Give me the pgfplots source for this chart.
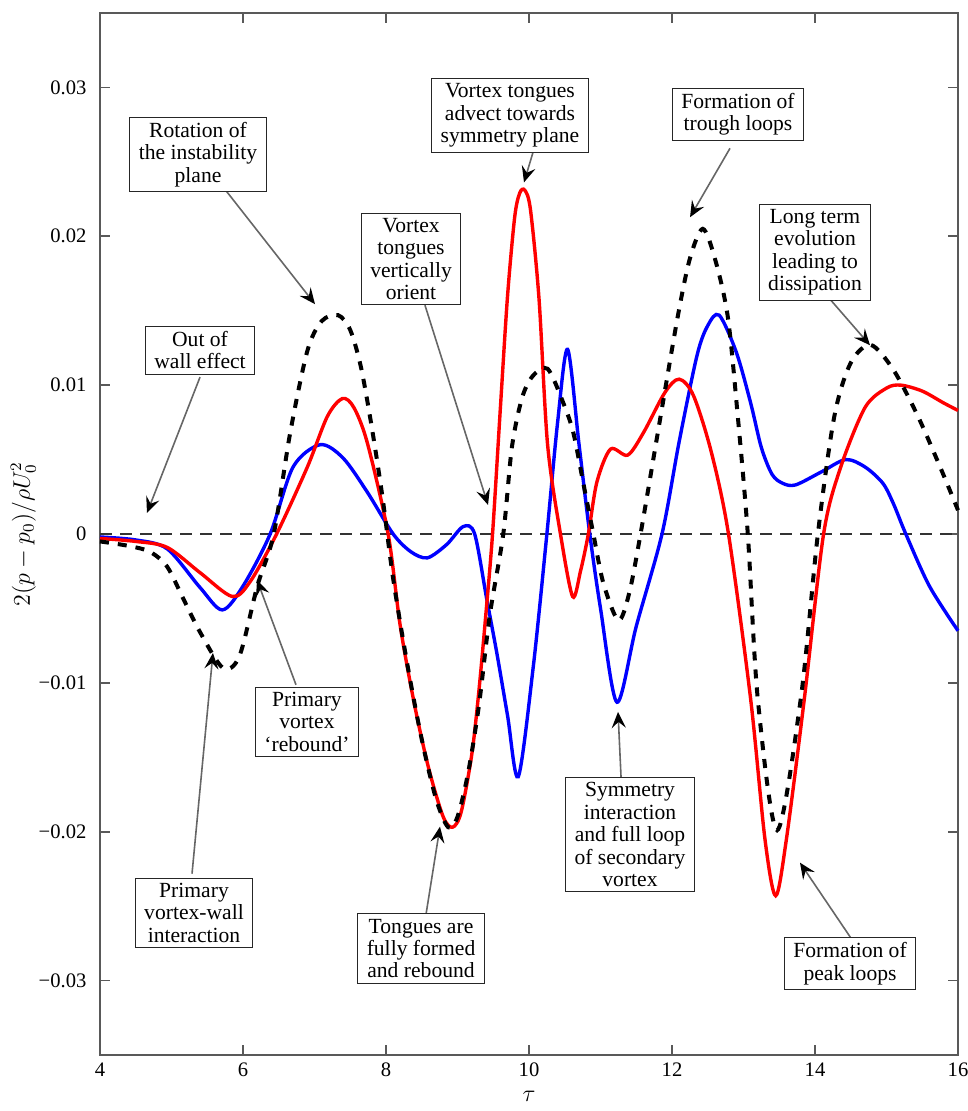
\documentclass[border=0pt]{standalone}
\usepackage{fontspec}
\setmainfont{Liberation Serif}
\usepackage{pgfplots}
\pgfplotsset{compat=1.18}
\usetikzlibrary{arrows.meta}
\begin{document}
\fontsize{10.8}{11.2}\selectfont
\begin{tikzpicture}[
  lbl/.style={draw=black!85, line width=0.5pt, fill=white, align=center, inner xsep=4.5pt, inner ysep=2.5pt, font=\fontsize{10.8}{11.2}\selectfont},
  arr/.style={draw=black!60, line width=0.8pt, -{Stealth[color=black, length=8pt, width=7pt, inset=3pt]}}
]
\begin{axis}[
  scale only axis, width=429pt, height=521pt,
  xmin=4, xmax=16, ymin=-0.035, ymax=0.035,
  xtick={4,6,8,10,12,14,16},
  xticklabels={4,6,8,10,12,14,16},
  ytick={-0.03,-0.02,-0.01,0,0.01,0.02,0.03},
  yticklabels={−0.03,−0.02,−0.01,0,0.01,0.02,0.03},
  tick label style={font=\fontsize{10.3}{12}\selectfont},
  yticklabel style={xshift=-3pt},
  axis line style={black!65, line width=1pt},
  tick style={black!65, line width=0.8pt},
  major tick length=5pt, tick align=inside,
  xlabel={$\tau$}, ylabel={$2(p-p_0)/\rho U_0^2$},
  ylabel shift=-6pt,
  label style={font=\fontsize{12}{14}\selectfont},
  clip=false,
]
\addplot[black!80, line width=0.8pt, dash pattern=on 6pt off 4pt] coordinates {(4,0) (16,0)};
% blue
\addplot[blue, line width=1.7pt, smooth] coordinates {
(4.0,-0.0002) (4.5,-0.0004) (4.94,-0.0010) (5.4,-0.0036) (5.71,-0.0051) (6.0,-0.0035)
(6.38,0.0000) (6.7,0.0045) (7.08,0.0060) (7.4,0.0051) (7.74,0.0028) (8.1,0.0000)
(8.35,-0.0012) (8.58,-0.0016) (8.85,-0.0007) (9.08,0.0005)
(9.24,0.0000) (9.41,-0.0044) (9.55,-0.0080) (9.7,-0.0122) (9.85,-0.0163) (10.06,-0.0089)
(10.25,0.0000) (10.4,0.0075) (10.54,0.0124) (10.7,0.0060) (10.85,0.0000) (11.0,-0.0050)
(11.23,-0.0113) (11.5,-0.0062) (11.86,0.0000) (12.1,0.0062) (12.35,0.0120)
(12.5,0.0140) (12.66,0.0147) (12.9,0.0122) (13.1,0.0088) (13.25,0.0058) (13.4,0.0040)
(13.55,0.0034) (13.73,0.0033) (14.1,0.0042) (14.43,0.0050) (14.7,0.0045) (14.95,0.0034)
(15.1,0.0020) (15.27,0.0000) (15.6,-0.0035) (16.0,-0.0065)};
% red
\addplot[red, line width=1.7pt, smooth] coordinates {
(4.0,-0.0003) (4.5,-0.0005) (4.94,-0.0009) (5.4,-0.0026) (5.85,-0.0042) (6.1,-0.0032)
(6.47,0.0000) (6.9,0.0045) (7.18,0.0079) (7.39,0.0091) (7.55,0.0085) (7.74,0.0061)
(8.03,0.0000) (8.2,-0.0062) (8.4,-0.0115) (8.6,-0.0158) (8.8,-0.0190) (8.93,-0.0197)
(9.05,-0.0187) (9.2,-0.0148) (9.3,-0.0105) (9.4,-0.0052) (9.49,0.0000) (9.6,0.0085)
(9.7,0.0160) (9.8,0.0213) (9.87,0.0229) (9.94,0.0231) (10.02,0.0218) (10.14,0.0158)
(10.26,0.0060) (10.44,0.0000) (10.61,-0.0042) (10.72,-0.0025) (10.83,0.0000) (10.95,0.0035)
(11.14,0.0057) (11.38,0.0053) (11.6,0.0068) (11.9,0.0095) (12.1,0.0104) (12.3,0.0093)
(12.55,0.0055) (12.79,0.0000) (13.1,-0.0111) (13.3,-0.0205) (13.45,-0.0243) (13.6,-0.0205)
(13.85,-0.0111) (14.12,0.0000) (14.36,0.0045) (14.7,0.0085) (15.0,0.0098) (15.2,0.0100)
(15.5,0.0096) (15.8,0.0088) (16.0,0.0083)};
% black dashed
\addplot[black, line width=2pt, dash pattern=on 4.5pt off 4.5pt, smooth] coordinates {
(4.0,-0.0005) (4.4,-0.0008) (4.7,-0.0012) (4.94,-0.0022) (5.17,-0.0044) (5.4,-0.0066)
(5.72,-0.0090) (5.95,-0.0082) (6.2,-0.0035) (6.43,0.0000) (6.66,0.0068) (6.9,0.0123)
(7.1,0.0143) (7.33,0.0147) (7.5,0.0137) (7.65,0.0112) (7.8,0.0072) (7.95,0.0025)
(8.1,-0.0030) (8.3,-0.0088) (8.5,-0.0138) (8.7,-0.0178) (8.87,-0.0197) (9.0,-0.0190)
(9.15,-0.0160) (9.3,-0.0115) (9.45,-0.0055) (9.64,0.0000) (9.76,0.0058) (9.9,0.0091)
(10.05,0.0106) (10.26,0.0111) (10.48,0.0088) (10.62,0.0068) (10.76,0.0034) (10.9,0.0000)
(11.04,-0.0033) (11.25,-0.0058) (11.4,-0.0040) (11.56,0.0000) (11.84,0.0079) (12.08,0.0146)
(12.25,0.0185) (12.43,0.0205) (12.6,0.0185) (12.78,0.0146) (12.92,0.0079) (13.06,0.0000)
(13.2,-0.0111) (13.47,-0.0199) (13.8,-0.0111) (14.04,0.0000) (14.27,0.0079) (14.5,0.0115)
(14.78,0.0127) (15.1,0.0110) (15.44,0.0079) (15.75,0.0045) (16.0,0.0016)};
% annotations
\draw[arr] (axis cs:5.748,0.02315) -- (axis cs:7.007,0.01544);
\node[lbl] at (axis cs:5.371,0.0255) {Rotation of\\the instability\\plane};
\draw[arr] (axis cs:5.399,0.01054) -- (axis cs:4.657,0.00141);
\node[lbl] at (axis cs:5.399,0.01235) {Out of\\wall effect};
\draw[arr] (axis cs:8.545,0.01537) -- (axis cs:9.427,0.00195);
\node[lbl] at (axis cs:8.35,0.01846) {Vortex\\tongues\\vertically\\orient};
\draw[arr] (axis cs:10.056,0.02564) -- (axis cs:9.93,0.02362);
\node[lbl] at (axis cs:9.734,0.02812) {Vortex tongues\\advect towards\\symmetry plane};
\draw[arr] (axis cs:12.811,0.02591) -- (axis cs:12.252,0.02128);
\node[lbl] at (axis cs:12.923,0.02819) {Formation of\\trough loops};
\draw[arr] (axis cs:14.21,0.01577) -- (axis cs:14.769,0.01268);
\node[lbl] at (axis cs:14.0,0.01893) {Long term\\evolution\\leading to\\dissipation};
\draw[arr] (axis cs:6.741,-0.01013) -- (axis cs:6.196,-0.00309);
\node[lbl] at (axis cs:6.895,-0.01262) {Primary\\vortex\\‘rebound’};
\draw[arr] (axis cs:5.287,-0.02282) -- (axis cs:5.58,-0.00799);
\node[lbl] at (axis cs:5.315,-0.02544) {Primary\\vortex-wall\\interaction};
\draw[arr] (axis cs:8.559,-0.02557) -- (axis cs:8.755,-0.01966);
\node[lbl] at (axis cs:8.49,-0.02785) {Tongues are\\fully formed\\and rebound};
\draw[arr] (axis cs:11.287,-0.01631) -- (axis cs:11.245,-0.01195);
\node[lbl] at (axis cs:11.413,-0.0202) {Symmetry\\interaction\\and full loop\\of secondary\\vortex};
\draw[arr] (axis cs:14.517,-0.02725) -- (axis cs:13.79,-0.02208);
\node[lbl] at (axis cs:14.49,-0.02886) {Formation of\\peak loops};
\end{axis}
\pgfresetboundingbox
\path (current axis.south west) ++(-50pt,-28pt) coordinate (bl);
\path (current axis.north east) ++(4.5pt,6.5pt) coordinate (tr);
\path (bl) rectangle (tr);
\end{tikzpicture}
\end{document}
